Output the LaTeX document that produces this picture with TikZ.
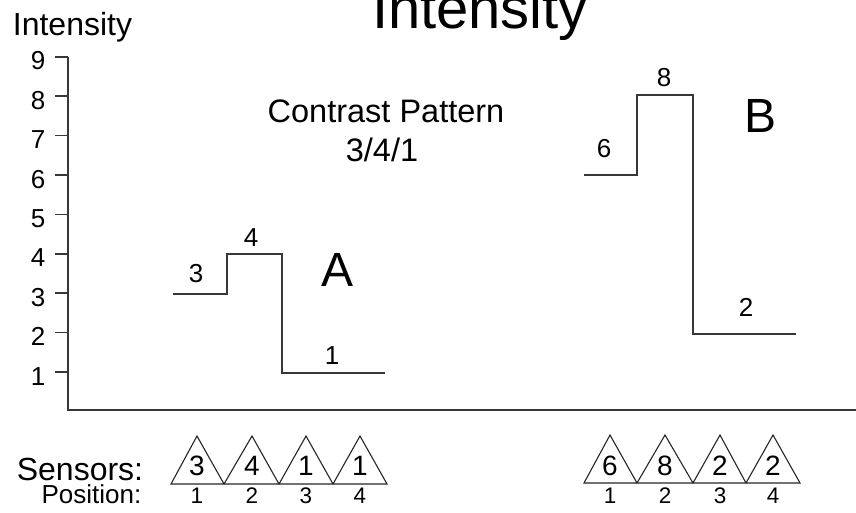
\documentclass[tikz,border=0pt]{standalone}
\usepackage{fontspec}
\setmainfont{Liberation Sans}
\newcommand\fsz[1]{\fontsize{#1}{#1}\selectfont}
\begin{document}
\begin{tikzpicture}[x=1pt,y=-1pt,
  ln/.style={line width=1.6pt, draw=black!78},
  txt/.style={anchor=base, inner sep=0pt, text=black},
  big/.style={txt, font=\fsz{32.5}},
  huge/.style={txt, font=\fsz{48}},
  num/.style={txt, font=\fsz{26}},
  sens/.style={txt, font=\fsz{28}},
  posnum/.style={txt, font=\fsz{22.5}}]
\useasboundingbox (0,0) rectangle (856,512);
% title (cut off at top)
\node[txt, font=\fsz{58}] (title) at (480,28) {Intensity};
% axis
\node[txt, font=\fsz{32}] (ylabel) at (72.5,35) {Intensity};
\coordinate (ytop) at (68,57);
\coordinate (origin) at (68,410);
\coordinate (xend) at (856,410);
\draw[ln] (ytop) -- (origin) -- (xend);
\foreach \v in {1,...,9}{
  \coordinate (tk\v) at (68,{411.4-39.4*\v});
  \draw[ln] (tk\v) -- ++(-13,0);
  \node[num] (tl\v) at (38,{411.4-39.4*\v+13}) {\v};
}
% caption
\node[big] (cp1) at (386,122) {Contrast Pattern};
\node[big] (cp2) at (382,161) {3/4/1};
% step A
\draw[ln] (173,294) -- (227,294) -- (227,254) -- (282,254) -- (282,373) -- (385,373);
\node[num] (a3) at (196,282) {3};
\node[num] (a4) at (251,246) {4};
\node[num] (a1) at (332,364) {1};
\node[huge] (A) at (338,286) {A};
% step B
\draw[ln] (584,175) -- (637,175) -- (637,95) -- (693,95) -- (693,334) -- (796,334);
\node[num] (b6) at (604,157) {6};
\node[num] (b8) at (664,86) {8};
\node[num] (b2) at (746,316) {2};
\node[huge] (B) at (760,132) {B};
% sensors
\node[txt, font=\fsz{32}] (sensors) at (80,480) {Sensors:};
\node[txt, font=\fsz{26}] (position) at (91.5,503) {Position:};
\draw[line width=1.1pt, draw=black!85, line join=miter]
  (171,484) -- (197,436) -- (224,484) -- (252,436) -- (279,484) -- (306,436) -- (333,484) -- (360,436) -- (387,484) -- cycle;
\draw[line width=1.1pt, draw=black!85, line join=miter]
  (584,483) -- (610,435) -- (637,483) -- (665,435) -- (693,483) -- (720,435) -- (746,483) -- (773,435) -- (800,483) -- cycle;
\foreach \x/\t/\n in {197/3/1, 252/4/2, 306/1/3, 360/1/4}{
  \node[sens] (sa\n) at (\x,475) {\t};
  \node[posnum] (pa\n) at (\x,503) {\n};
}
\foreach \x/\t/\n in {610/6/1, 665/8/2, 720/2/3, 773/2/4}{
  \node[sens] (sb\n) at (\x,475) {\t};
  \node[posnum] (pb\n) at (\x,503) {\n};
}
\end{tikzpicture}
\end{document}
